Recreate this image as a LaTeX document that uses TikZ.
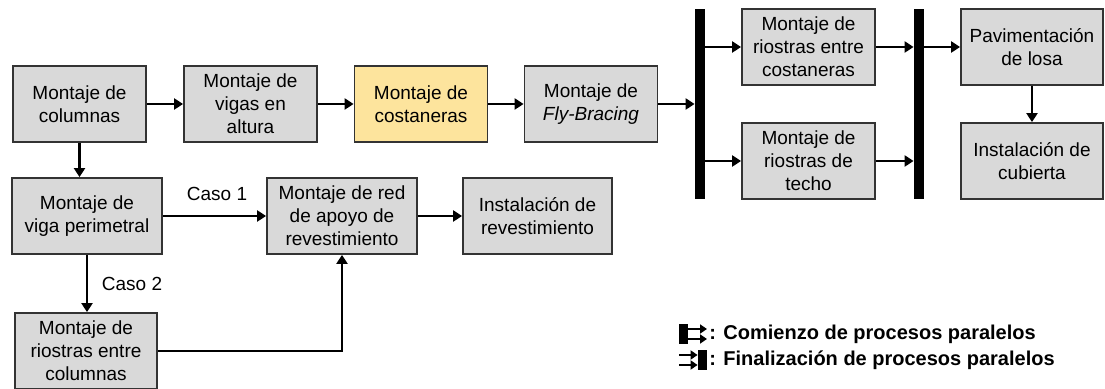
\documentclass[tikz,border=0pt]{standalone}
\usepackage{fontspec}
\setmainfont{Liberation Sans}
\usetikzlibrary{arrows.meta}
\definecolor{boxgray}{RGB}{217,217,217}
\definecolor{boxgold}{RGB}{253,228,157}

\begin{document}
\begin{tikzpicture}[x=0.5pt, y=-0.5pt,
    every node/.style={font=\fontsize{9.5}{11.5}\selectfont},
    proc/.style={rectangle, draw=black!80, line width=0.9pt, fill=boxgray, align=center, minimum width=66.5pt, minimum height=38pt, inner sep=1pt},
    bar/.style={rectangle, fill=black, minimum width=5pt, minimum height=95pt, inner sep=0pt},
    flow/.style={-{Triangle[length=4.5pt,width=5.5pt]}, line width=1.1pt},
    mini/.style={-{Triangle[length=3.5pt,width=4.5pt]}, line width=0.9pt},
    legend/.style={font=\fontsize{10}{12}\selectfont\bfseries, anchor=west, inner sep=0pt}]
            \useasboundingbox (0,0) rectangle (1105,389);

            \node[proc] (col) at (79.5,104) {Montaje de\\columnas};
            \node[proc] (vig) at (250.5,104) {Montaje de\\vigas en\\altura};
            \node[proc, fill=boxgold] (cos) at (421,104) {Montaje de\\costaneras};
            \node[proc] (fly) at (591,104) {Montaje de\\\textit{Fly-Bracing}};

            \node[proc, minimum width=75pt] (per) at (87,216) {Montaje de\\viga perimetral};
            \node[proc, minimum width=75pt] (red) at (342,216) {Montaje de red\\de apoyo de\\revestimiento};
            \node[proc, minimum width=74.5pt] (rev) at (537.5,216) {Instalación de\\revestimiento};
            \node[proc, minimum width=71pt] (rco) at (86,351) {Montaje de\\riostras entre\\columnas};

            \node[bar] (b1) at (700,104) {};
            \node[proc] (rcs) at (808.5,47) {Montaje de\\riostras entre\\costaneras};
            \node[proc] (rte) at (808.5,161) {Montaje de\\riostras de\\techo};
            \node[bar] (b2) at (919,104) {};
            \node[proc, minimum width=71pt] (pav) at (1032,47) {Pavimentación\\de losa};
            \node[proc, minimum width=71pt] (cub) at (1032,161) {Instalación de\\cubierta};

            \node (c1) at (217,194) {Caso 1};
            \node (c2) at (132,284) {Caso 2};

            \draw[flow] (col) -- (vig);
            \draw[flow] (vig) -- (cos);
            \draw[flow] (cos) -- (fly);
            \draw[flow] (fly) -- (fly.east -| b1.west);
            \draw[flow] (rcs.west -| b1.east) -- (rcs);
            \draw[flow] (rte.west -| b1.east) -- (rte);
            \draw[flow] (rcs) -- (rcs.east -| b2.west);
            \draw[flow] (rte) -- (rte.east -| b2.west);
            \draw[flow] (pav.west -| b2.east) -- (pav);
            \draw[flow] (pav) -- (cub);

            \draw[flow] (col) -- (col.south |- per.north);
            \draw[flow] (per) -- (red);
            \draw[flow] (per) -- (per.south |- rco.north);
            \draw[flow] (rco) -| (red);
            \draw[flow] (red) -- (rev);

            % legend
            \node[bar, minimum width=4.5pt, minimum height=10pt] (s1) at (683.5,334) {};
            \coordinate (s1a) at (707,329);
            \coordinate (s1b) at (707,339);
            \draw[mini] (s1.east |- s1a) -- (s1a);
            \draw[mini] (s1.east |- s1b) -- (s1b);
            \node[legend] (t1) at (709,334) {: Comienzo de procesos paralelos};

            \node[bar, minimum width=4.5pt, minimum height=10pt] (s2) at (702.5,360) {};
            \coordinate (s2a) at (679,355);
            \coordinate (s2b) at (679,365);
            \draw[mini] (s2a) -- (s2a -| s2.west);
            \draw[mini] (s2b) -- (s2b -| s2.west);
            \node[legend] (t2) at (709,360) {: Finalización de procesos paralelos};
          \end{tikzpicture}
\end{document}
